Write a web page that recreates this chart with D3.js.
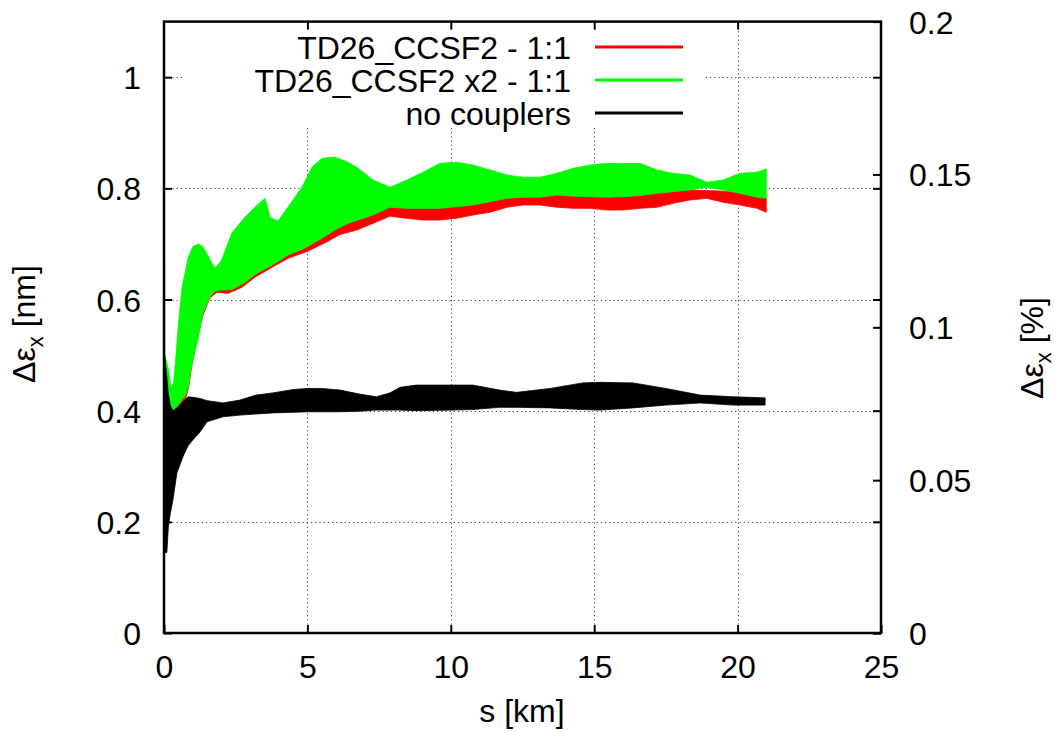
<!DOCTYPE html>
<html>
<head>
<meta charset="utf-8">
<script src="https://cdn.jsdelivr.net/npm/d3@7"></script>
<style>
  html, body { margin: 0; padding: 0; background: #fff; }
  svg { display: block; }
  text { font-family: "Liberation Sans", Arial, Helvetica, sans-serif; fill: #000; }
</style>
</head>
<body>
<svg id="chart" width="1055" height="733"></svg>
<script>
// ---------------- data ----------------
const xTicks = [0, 5, 10, 15, 20, 25];
const yTicks = [0, 0.2, 0.4, 0.6, 0.8, 1];
const y2Ticks = [0, 0.05, 0.1, 0.15, 0.2];
const xGrid = [5, 10, 15, 20];
const yGrid = [0.2, 0.4, 0.6, 0.8, 1];

const seriesNames = ["TD26_CCSF2 - 1:1", "TD26_CCSF2 x2 - 1:1", "no couplers"];
const seriesColors = ["#ff0000", "#00ff00", "#000000"];

// envelope of each oscillating trace: [s (km), lower, upper] in nm
const redBand = [
  [0.4, 0.400, 0.410], [0.7, 0.410, 0.430], [0.85, 0.440, 0.450], [1.0, 0.490, 0.500],
  [1.15, 0.527, 0.535], [1.36, 0.572, 0.580], [1.6, 0.603, 0.610], [1.85, 0.613, 0.620],
  [2.23, 0.611, 0.625], [2.72, 0.622, 0.635], [3.17, 0.640, 0.650], [3.77, 0.658, 0.665],
  [4.32, 0.674, 0.685], [5.02, 0.687, 0.695], [5.72, 0.705, 0.720], [6.14, 0.717, 0.735],
  [6.72, 0.725, 0.745], [7.29, 0.737, 0.755], [7.88, 0.750, 0.768], [8.47, 0.746, 0.766],
  [9.03, 0.743, 0.766], [9.62, 0.743, 0.766], [10.2, 0.746, 0.769], [10.77, 0.752, 0.772],
  [11.37, 0.757, 0.778], [11.96, 0.766, 0.784], [12.52, 0.770, 0.786], [13.1, 0.770, 0.786],
  [13.7, 0.766, 0.790], [14.26, 0.764, 0.788], [14.85, 0.764, 0.787], [15.45, 0.761, 0.786],
  [16.0, 0.761, 0.787], [16.6, 0.764, 0.789], [17.19, 0.766, 0.793], [17.75, 0.773, 0.795],
  [18.34, 0.779, 0.797], [18.93, 0.782, 0.796], [19.49, 0.775, 0.795], [20.08, 0.770, 0.793],
  [20.68, 0.764, 0.786], [21.0, 0.757, 0.784]
];

const greenBand = [
  [0.0, 0.45, 1.10], [0.03, 0.44, 0.50], [0.15, 0.42, 0.475], [0.25, 0.41, 0.44],
  [0.33, 0.40, 0.45], [0.42, 0.405, 0.50], [0.5, 0.41, 0.555], [0.63, 0.42, 0.622],
  [0.73, 0.425, 0.647], [0.84, 0.44, 0.675], [1.0, 0.49, 0.695], [1.19, 0.53, 0.70],
  [1.36, 0.575, 0.695], [1.6, 0.605, 0.672], [1.78, 0.615, 0.656], [2.0, 0.617, 0.67],
  [2.37, 0.618, 0.72], [2.82, 0.63, 0.748], [3.17, 0.645, 0.766], [3.52, 0.655, 0.782],
  [3.70, 0.66, 0.748], [3.97, 0.668, 0.741], [4.32, 0.68, 0.766], [4.81, 0.69, 0.802],
  [5.16, 0.70, 0.838], [5.51, 0.71, 0.854], [5.96, 0.725, 0.856], [6.42, 0.737, 0.847],
  [6.72, 0.742, 0.838], [7.29, 0.752, 0.815], [7.88, 0.766, 0.802], [8.47, 0.764, 0.815],
  [9.03, 0.764, 0.829], [9.62, 0.764, 0.845], [10.2, 0.767, 0.847], [10.77, 0.770, 0.842],
  [11.37, 0.776, 0.833], [11.96, 0.782, 0.824], [12.52, 0.784, 0.820], [13.1, 0.784, 0.820],
  [13.7, 0.788, 0.827], [14.26, 0.786, 0.836], [14.85, 0.785, 0.842], [15.45, 0.784, 0.845],
  [16.0, 0.785, 0.845], [16.6, 0.787, 0.845], [17.19, 0.791, 0.833], [17.75, 0.794, 0.827],
  [18.34, 0.797, 0.824], [18.93, 0.802, 0.811], [19.49, 0.797, 0.815], [20.08, 0.791, 0.827],
  [20.68, 0.784, 0.829], [21.0, 0.782, 0.835]
];

const blackBand = [
  [0.0, 0.00, 0.30], [0.02, 0.145, 0.50], [0.10, 0.145, 0.46], [0.15, 0.19, 0.43],
  [0.22, 0.215, 0.41], [0.31, 0.239, 0.40], [0.45, 0.288, 0.405], [0.66, 0.317, 0.415],
  [0.84, 0.337, 0.425], [1.0, 0.347, 0.424], [1.26, 0.362, 0.422], [1.5, 0.38, 0.418],
  [2.06, 0.389, 0.414], [2.65, 0.392, 0.419], [3.2, 0.394, 0.428], [3.8, 0.396, 0.432],
  [4.5, 0.397, 0.438], [5.0, 0.398, 0.440], [5.5, 0.398, 0.440], [6.14, 0.398, 0.437],
  [6.8, 0.399, 0.430], [7.4, 0.401, 0.425], [7.88, 0.401, 0.432], [8.23, 0.401, 0.442],
  [8.8, 0.400, 0.446], [9.97, 0.401, 0.446], [10.77, 0.402, 0.446], [11.7, 0.406, 0.437],
  [12.3, 0.406, 0.433], [13.46, 0.405, 0.440], [14.6, 0.402, 0.450], [15.2, 0.401, 0.451],
  [16.35, 0.405, 0.450], [17.5, 0.410, 0.440], [18.7, 0.414, 0.428], [19.85, 0.410, 0.425],
  [20.96, 0.410, 0.423]
];

// ---------------- layout ----------------
const W = 1055, H = 733;
const L = 164, R = 881, T = 21.6, B = 633;
const FS = 32;

const svg = d3.select("#chart");
const x = d3.scaleLinear().domain([0, 25]).range([L, R]);
const y = d3.scaleLinear().domain([0, 1.1]).range([B, T]);
const y2 = d3.scaleLinear().domain([0, 0.2]).range([B, T]);

// grid (behind data)
const grid = svg.append("g").attr("stroke", "#444").attr("stroke-width", 1)
  .attr("stroke-dasharray", "1.2,3");
grid.selectAll("line.gx").data(xGrid).join("line")
  .attr("x1", d => Math.round(x(d)) + 0.5).attr("x2", d => Math.round(x(d)) + 0.5)
  .attr("y1", B).attr("y2", T);
grid.selectAll("line.gy").data(yGrid).join("line")
  .attr("y1", d => Math.round(y(d)) + 0.5).attr("y2", d => Math.round(y(d)) + 0.5)
  .attr("x1", L).attr("x2", R);

// opaque key box
svg.append("rect").attr("x", 183).attr("y", T).attr("width", 703 - 183).attr("height", 128 - T)
  .attr("fill", "#fff");

// data bands
const area = d3.area().x(d => x(d[0])).y0(d => y(d[1])).y1(d => y(d[2]));
[[redBand, seriesColors[0]], [greenBand, seriesColors[1]], [blackBand, seriesColors[2]]]
  .forEach(([data, col]) => {
    svg.append("path").datum(data).attr("d", area)
      .attr("fill", col).attr("stroke", col).attr("stroke-width", 0.8)
      .attr("stroke-linejoin", "round");
  });

// axes
function styleAxis(g) {
  g.select(".domain").remove();
  g.selectAll(".tick line").attr("stroke", "#000").attr("stroke-width", 2);
  g.selectAll(".tick text").attr("font-size", FS)
    .attr("font-family", '"Liberation Sans", Arial, Helvetica, sans-serif').attr("fill", "#000");
}
const fmt = d => String(d);

svg.append("g").attr("transform", `translate(0,${B})`)
  .call(d3.axisBottom(x).tickValues(xTicks).tickFormat(fmt).tickSizeInner(-8).tickSizeOuter(0).tickPadding(22))
  .call(styleAxis);
svg.append("g").attr("transform", `translate(0,${T})`)
  .call(d3.axisTop(x).tickValues(xGrid).tickFormat("").tickSizeInner(-8).tickSizeOuter(0))
  .call(styleAxis);
svg.append("g").attr("transform", `translate(${L},0)`)
  .call(d3.axisLeft(y).tickValues(yTicks).tickFormat(fmt).tickSizeInner(-8).tickSizeOuter(0).tickPadding(23))
  .call(styleAxis)
  .call(g => g.selectAll(".tick text").attr("dy", "0.36em"));
svg.append("g").attr("transform", `translate(${R},0)`)
  .call(d3.axisRight(y).tickValues(yTicks).tickFormat("").tickSizeInner(-8).tickSizeOuter(0))
  .call(styleAxis);
svg.append("g").attr("transform", `translate(${R},0)`)
  .call(d3.axisRight(y2).tickValues(y2Ticks).tickFormat(fmt).tickSizeInner(-8).tickSizeOuter(0).tickPadding(28))
  .call(styleAxis)
  .call(g => g.selectAll(".tick text").attr("dy", "0.36em"));

// border
svg.append("rect").attr("x", L).attr("y", T).attr("width", R - L).attr("height", B - T)
  .attr("fill", "none").attr("stroke", "#000").attr("stroke-width", 2.5);

// legend
const legY = [47, 80, 113];
const leg = svg.append("g");
seriesNames.forEach((name, i) => {
  leg.append("text").attr("x", 571).attr("y", legY[i]).attr("dy", "0.36em")
    .attr("text-anchor", "end").attr("font-size", FS).text(name);
  leg.append("line").attr("x1", 595).attr("x2", 683).attr("y1", legY[i]).attr("y2", legY[i])
    .attr("stroke", seriesColors[i]).attr("stroke-width", 3);
});

// axis titles
svg.append("text").attr("x", 522).attr("y", 722).attr("text-anchor", "middle")
  .attr("font-size", FS).text("s [km]");

function yTitle(cx, cy, unit) {
  const t = svg.append("text").attr("transform", `translate(${cx},${cy}) rotate(-90)`)
    .attr("text-anchor", "middle").attr("font-size", FS);
  t.append("tspan").text("Δε");
  t.append("tspan").attr("font-size", 22).attr("dy", 8).text("x");
  t.append("tspan").attr("dy", -8).text(" " + unit);
}
yTitle(35, 324, "[nm]");
yTitle(1043, 348, "[%]");
</script>
</body>
</html>
